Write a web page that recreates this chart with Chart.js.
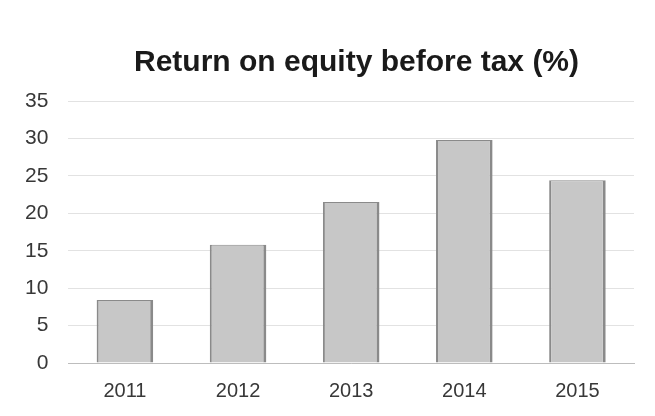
<!DOCTYPE html>
<html>
<head>
<meta charset="utf-8">
<script src="https://cdn.jsdelivr.net/npm/chart.js@4.4.1/dist/chart.umd.min.js"></script>
<style>
  html, body { margin: 0; padding: 0; background: #fff; overflow: hidden; }
  #wrap { position: relative; width: 655px; height: 416px; }
  #title {
    position: absolute; left: 134px; top: 46px;
    font: bold 30px "Liberation Sans", Arial, sans-serif;
    line-height: 30px; color: #1a1a1a; white-space: nowrap;
  }
</style>
</head>
<body>
<div id="wrap">
  <div id="title">Return on equity before tax (%)</div>
  <canvas id="roeChart"></canvas>
</div>
<script>
// data
var years = ["2011", "2012", "2013", "2014", "2015"];
var roeValues = [8.4, 15.8, 21.5, 29.8, 24.4];
var yTicks = [0, 5, 10, 15, 20, 25, 30, 35];

var chart = document.getElementById("roeChart");

var myChart = new Chart(chart, {
  type: "bar",
  data: {
    labels: years,
    datasets: [
      {
        label: "Return on equity before tax (%)",
        data: roeValues,
        backgroundColor: "#c7c7c7",
        borderColor: "#8a8a8a",
        borderWidth: { left: 2, right: 3, top: 1, bottom: 0 },
        borderSkipped: false,
        barPercentage: 0.5,
        categoryPercentage: 1.0,
      },
    ],
  },
  options: {
    responsive: true,
    maintainAspectRatio: false,
    animation: false,
    layout: { padding: { left: 5, right: 21, top: 101, bottom: 13 } },
    plugins: {
      legend: { display: false },
      tooltip: { enabled: false },
      title: { display: false },
    },
    scales: {
      x: {
        afterFit: function (scale) { scale.height = 40; },
        grid: { display: false, drawTicks: false },
        border: { color: "#bdbdbd", width: 1 },
        ticks: {
          color: "#383838",
          font: { family: "Liberation Sans", size: 20 },
          padding: 16,
        },
      },
      y: {
        min: 0,
        max: 35,
        afterBuildTicks: function (axis) {
          axis.ticks = yTicks.map(function (v) { return { value: v }; });
        },
        grid: { color: "#e2e2e2", drawTicks: false },
        border: { display: false },
        ticks: {
          color: "#383838",
          font: { family: "Liberation Sans", size: 21 },
          padding: 20,
        },
      },
    },
  },
});
</script>
</body>
</html>
